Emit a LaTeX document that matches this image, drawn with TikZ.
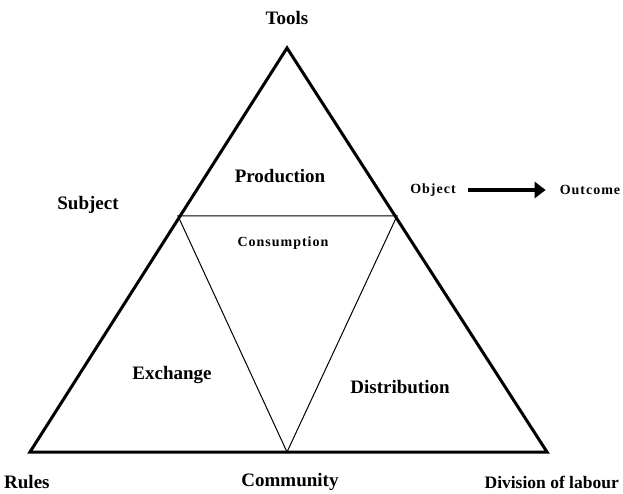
\documentclass[tikz,border=0pt]{standalone}
\usepackage{fontspec}
\setmainfont{Liberation Serif}
\newfontfamily\spacedfont[LetterSpace=7]{Liberation Serif}
\usetikzlibrary{arrows.meta}
\begin{document}
\begin{tikzpicture}[x=1pt,y=-1pt,
  lbl/.style={font=\fontsize{19}{22}\selectfont\bfseries, inner sep=0pt},
  sml/.style={font=\fontsize{14}{16}\spacedfont\bfseries, inner sep=0pt},
  outer/.style={line width=3pt, line join=miter},
  inner/.style={line width=1pt},
  flow/.style={line width=4pt, -{Triangle[length=11pt,width=16pt]}, shorten <=12pt, shorten >=14pt}]
\useasboundingbox (0,0) rectangle (623,494);
\coordinate (T) at (287,48);
\coordinate (BL) at (30,452);
\coordinate (BR) at (547,452);
\coordinate (IL) at (178,216);
\coordinate (IR) at (397,216);
\coordinate (IB) at (287,452);
\draw[outer] (T) -- (BR) -- (BL) -- cycle;
\draw[inner] (IL) -- (IR) -- (IB) -- cycle;
\node[lbl] (tools) at (287,18) {Tools};
\node[lbl] (prod) at (280,176) {Production};
\node[lbl] (subj) at (88,205) {Subject};
\node[sml] (obj) at (433,190) {Object};
\node[sml] (out) at (590,190) {Outcome};
\draw[flow] (obj.east) -- (out.west);
\node[sml] (cons) at (283,243) {Consumption};
\node[lbl] (exch) at (172,375) {Exchange};
\node[lbl] (dist) at (400,387) {Distribution};
\node[lbl, anchor=west] (rules) at (4,482) {Rules};
\node[lbl] (comm) at (290,482) {Community};
\node[lbl, anchor=east, font=\fontsize{17.5}{20}\selectfont\bfseries] (div) at (619,482) {Division of labour};
\end{tikzpicture}
\end{document}
